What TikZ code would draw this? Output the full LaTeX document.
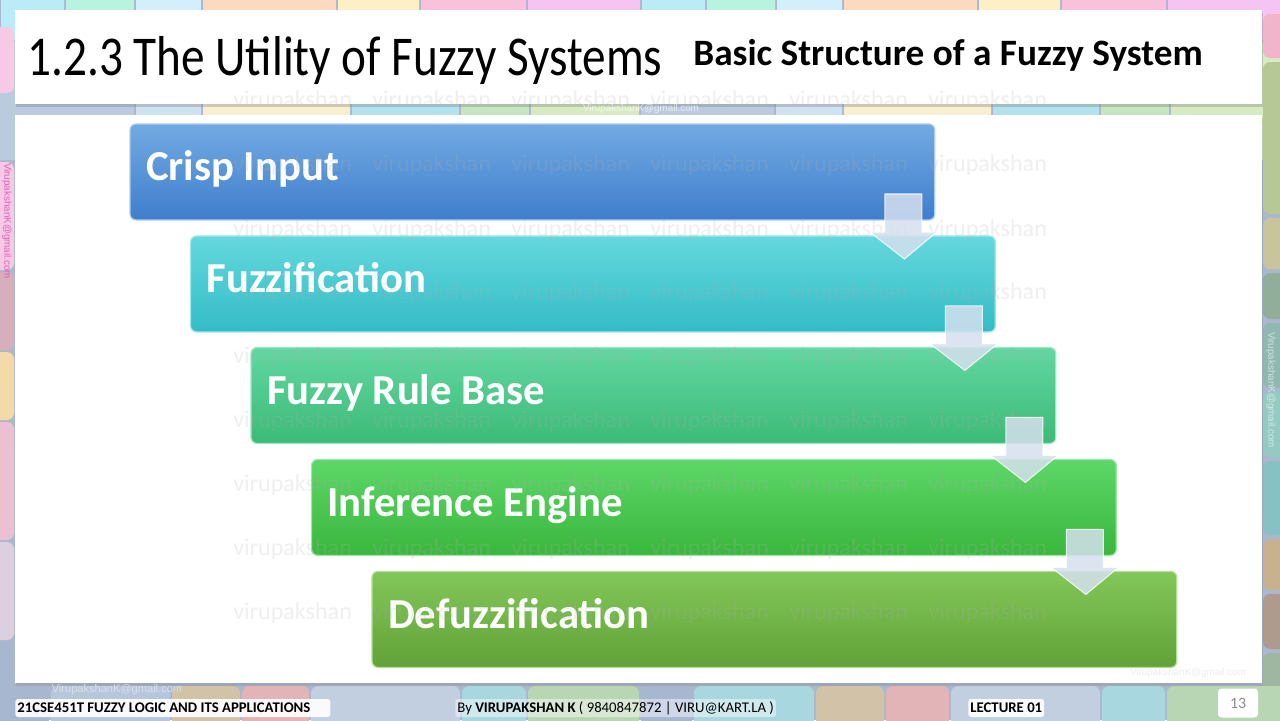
\documentclass[tikz,border=0pt]{standalone}
\usepackage{fontspec}
\setmainfont{Carlito}
\newfontfamily\titlefont[FakeStretch=0.84]{Carlito}
\newfontfamily\mailfont{Liberation Sans}
\usetikzlibrary{calc,shadows}
% background tiles
\definecolor{bgbase}{HTML}{A9B8CF}
\definecolor{tcyan}{HTML}{B9ECF7}
\definecolor{tmint}{HTML}{B8F3E0}
\definecolor{tlblue}{HTML}{D3EFFB}
\definecolor{tpeach}{HTML}{FDD9BF}
\definecolor{tyellow}{HTML}{FEF0C6}
\definecolor{tpink}{HTML}{F9C1DC}
\definecolor{tlav}{HTML}{F6C4F2}
\definecolor{rbgray}{HTML}{BACBE0}
\definecolor{rlblue}{HTML}{CFE2F2}
\definecolor{rcream}{HTML}{F7EFCF}
\definecolor{rcyan}{HTML}{B3E2EE}
\definecolor{rgreen}{HTML}{C6E5C0}
\definecolor{rlgreen}{HTML}{D7EBC3}
\definecolor{lpink}{HTML}{F6C9E6}
\definecolor{lmauve}{HTML}{D7AFBA}
\definecolor{lpeach}{HTML}{F4DAA8}
\definecolor{lrose}{HTML}{EBC0D3}
\definecolor{llav}{HTML}{DCCFE0}
\definecolor{sbgray}{HTML}{A7B7D0}
\definecolor{spink}{HTML}{F2B4CA}
\definecolor{solive}{HTML}{B7C897}
\definecolor{skhaki}{HTML}{C8C59C}
\definecolor{sggreen}{HTML}{90AE9A}
\definecolor{stealg}{HTML}{8FB9B0}
\definecolor{steal}{HTML}{93CBC2}
\definecolor{steal2}{HTML}{86C2C4}
\definecolor{stan}{HTML}{C7B18F}
\definecolor{sbrown}{HTML}{AE9B8D}
\definecolor{sgg}{HTML}{9DB7A0}
\definecolor{bblg}{HTML}{B6C6DC}
\definecolor{btan}{HTML}{D2C2A8}
\definecolor{bpink}{HTML}{E2B4B8}
\definecolor{blb}{HTML}{C1CFE0}
\definecolor{bcyan}{HTML}{A9D7E0}
\definecolor{bgreen}{HTML}{B8D6B4}
% stage boxes
\definecolor{crispT}{HTML}{72AAE2}
\definecolor{crispB}{HTML}{3F7ECD}
\definecolor{fuzzT}{HTML}{64D8DD}
\definecolor{fuzzB}{HTML}{34BCC6}
\definecolor{ruleT}{HTML}{62D7A2}
\definecolor{ruleB}{HTML}{3CBA76}
\definecolor{inferT}{HTML}{5DD767}
\definecolor{inferB}{HTML}{3AB63E}
\definecolor{defuzzT}{HTML}{82C759}
\definecolor{defuzzB}{HTML}{62A238}
\definecolor{arrowfill}{HTML}{D5E0EE}
\definecolor{wmgray}{HTML}{B0B0B0}
\definecolor{mailpink}{HTML}{E062B4}
\definecolor{mailgray}{HTML}{D8E0EA}
\tikzset{
  tile/.style={rounded corners=4pt},
  stagebox/.style={anchor=north west, rounded corners=3.5pt, line width=0.7pt,
    minimum width=16.1cm, minimum height=1.92cm, text width=15.46cm,
    inner xsep=0.32cm, inner ysep=0pt, outer sep=0pt, align=flush left,
    text height=0.56cm, text depth=0.2cm, text=white,
    font=\fontsize{24.3}{29}\selectfont\bfseries},
  downarrow/.style={fill=arrowfill, fill opacity=0.85, draw=white,
    draw opacity=0.8, line width=0.6pt},
  wmark/.style={anchor=west, inner sep=0pt, text=wmgray, text opacity=0.2,
    font=\fontsize{13.7}{14}\selectfont},
  mail/.style={inner sep=0pt, font=\mailfont\fontsize{5.6}{6}\selectfont},
  footbox/.style={anchor=west, fill=white, fill opacity=0.9, text opacity=1,
    rounded corners=1.5pt, inner xsep=0.04cm, inner ysep=0pt,
    minimum height=0.36cm, font=\fontsize{8.4}{9}\selectfont}
}
\begin{document}
\begin{tikzpicture}[x=0.02cm,y=-0.02cm]
  \useasboundingbox (0,0) rectangle (1280,720);
  \clip (0,0) rectangle (1280,720);
  % tiled backdrop
  \fill[bgbase] (0,0) rectangle (1280,720);
  \foreach \xa/\xb/\tc in {0/65/tcyan,65/135/tmint,135/202/tlblue,202/337/tpeach,
      337/420/tyellow,420/527/tpink,527/641/tlav,641/706/tcyan,706/776/tmint,
      776/843/tlblue,843/978/tpeach,978/1061/tyellow,1061/1167/tpink,1167/1300/tlav}
    \fill[tile,\tc] (\xa+1,-30) rectangle (\xb-1,40);
  \foreach \xa/\xb/\tc in {-20/135/rbgray,135/202/rlblue,202/351/rcream,351/460/rcyan,
      460/530/rgreen,530/640/rlgreen,640/775/rbgray,775/843/rlblue,843/992/rcream,
      992/1100/rcyan,1100/1170/rgreen,1170/1300/rlgreen}
    \fill[tile,\tc] (\xa+1,42) rectangle (\xb-1,160);
  \foreach \ya/\yb/\tc in {27/93/lpink,95/160/rbgray,162/270/lpink,272/350/lmauve,
      352/420/lpeach,422/540/lrose,542/640/llav,642/760/sbgray}
    \fill[tile,\tc] (-20,\ya) rectangle (14,\yb);
  \foreach \ya/\yb/\tc in {14/58/spink,62/214/solive,218/269/skhaki,273/319/sggreen,
      323/388/stealg,392/457/steal,461/535/steal2,539/590/stan,594/649/sbrown,653/760/sgg}
    \fill[tile,\tc] (1263,\ya) rectangle (1300,\yb);
  \foreach \xa/\xb/\tc in {-20/50/sbgray,50/171/bblg,171/241/btan,241/310/bpink,
      310/461/blb,461/527/bcyan,527/640/bgreen,640/693/sbgray,693/815/bcyan,
      815/885/btan,885/950/bpink,950/1101/blb,1101/1166/bcyan,1166/1300/bgreen}
    \fill[tile,\tc] (\xa+1,686) rectangle (\xb-1,760);
  % slide panels
  \fill[white, drop shadow={opacity=0.3, shadow xshift=0.4pt, shadow yshift=-1.5pt}]
    (15,115) rectangle (1262,683);
  \fill[white, drop shadow={opacity=0.35, shadow xshift=0.4pt, shadow yshift=-1.5pt}]
    (15,10) rectangle (1262,104);
  \node[anchor=base west, inner sep=0pt, font=\titlefont\fontsize{32}{36}\selectfont]
    (title) at (27,75) {1.2.3 The Utility of Fuzzy Systems};
  \node[anchor=base west, inner sep=0pt, font=\fontsize{21.2}{24}\selectfont\bfseries]
    (subtitle) at (693,65) {Basic Structure of a Fuzzy System};
  % stages
  \node[stagebox, top color=crispT, bottom color=crispB, draw=crispT!60!white]
    (crisp) at (130,124) {Crisp Input};
  \node[stagebox, top color=fuzzT, bottom color=fuzzB, draw=fuzzT!60!white]
    (fuzz) at ([shift={(60.5,16)}]crisp.south west) {Fuzzification};
  \node[stagebox, top color=ruleT, bottom color=ruleB, draw=ruleT!60!white]
    (rulebase) at ([shift={(60.5,15.5)}]fuzz.south west) {Fuzzy Rule Base};
  \node[stagebox, top color=inferT, bottom color=inferB, draw=inferT!60!white]
    (infer) at ([shift={(60.5,16)}]rulebase.south west) {Inference Engine};
  \node[stagebox, top color=defuzzT, bottom color=defuzzB, draw=defuzzT!60!white]
    (defuzz) at ([shift={(60.5,16)}]infer.south west) {Defuzzification};
  % watermark
  \foreach \wy in {165,230,293,357,421,485,549,613}
    \foreach \wx in {233,372,511,650,789,928}
      \node[wmark] at (\wx,\wy) {virupakshan};
  \begin{scope}
    \clip (15,10) rectangle (1262,104);
    \foreach \wx in {233,372,511,650,789,928}
      \node[wmark] at (\wx,101) {virupakshan};
  \end{scope}
  % block arrows between stages
  \foreach \a/\b in {crisp/fuzz,fuzz/rulebase,rulebase/infer,infer/defuzz}
    \draw[downarrow] ($(\a.south east)+(-50,-26)$) -- ($(\a.south east)+(-13,-26)$)
      -- ($(\a.south east)+(-13,12)$) -- ($(\a.south east)+(2,12)$)
      -- ($(\b.north east)+(-91,23)$) -- ($(\a.south east)+(-65,12)$)
      -- ($(\a.south east)+(-50,12)$) -- cycle;
  % mail stamps
  \node[mail, rotate=-90, text=mailpink] (leftmail) at (7,221) {VirupakshanK@gmail.com};
  \node[mail, rotate=-90, text=white, text opacity=0.6] (rightmail) at (1271,390) {VirupakshanK@gmail.com};
  \node[mail, text=white, text opacity=0.7] (topmail) at (641,109) {VirupakshanK@gmail.com};
  \node[mail, text=black!7] (cornermail) at (1188,673) {VirupakshanK@gmail.com};
  \node[mail, text=mailgray, font=\mailfont\fontsize{6.3}{7}\selectfont] (footmail) at (117,690) {VirupakshanK@gmail.com};
  % footer
  \node[footbox, text width=6.22cm, align=flush left] (course) at (15,708)
    {\bfseries 21CSE451T FUZZY LOGIC AND ITS APPLICATIONS};
  \node[footbox, fill opacity=0.45] (author) at (455,708)
    {By \textbf{VIRUPAKSHAN K} ( 9840847872 | VIRU@KART.LA )};
  \node[footbox] (lecture) at (968,708) {\bfseries LECTURE 01};
  \node[fill=white, rounded corners=2pt, minimum width=0.8cm, minimum height=0.58cm,
    text=black!45, font=\fontsize{9}{10}\selectfont] (pagenum) at (1238,703) {13};
\end{tikzpicture}
\end{document}
